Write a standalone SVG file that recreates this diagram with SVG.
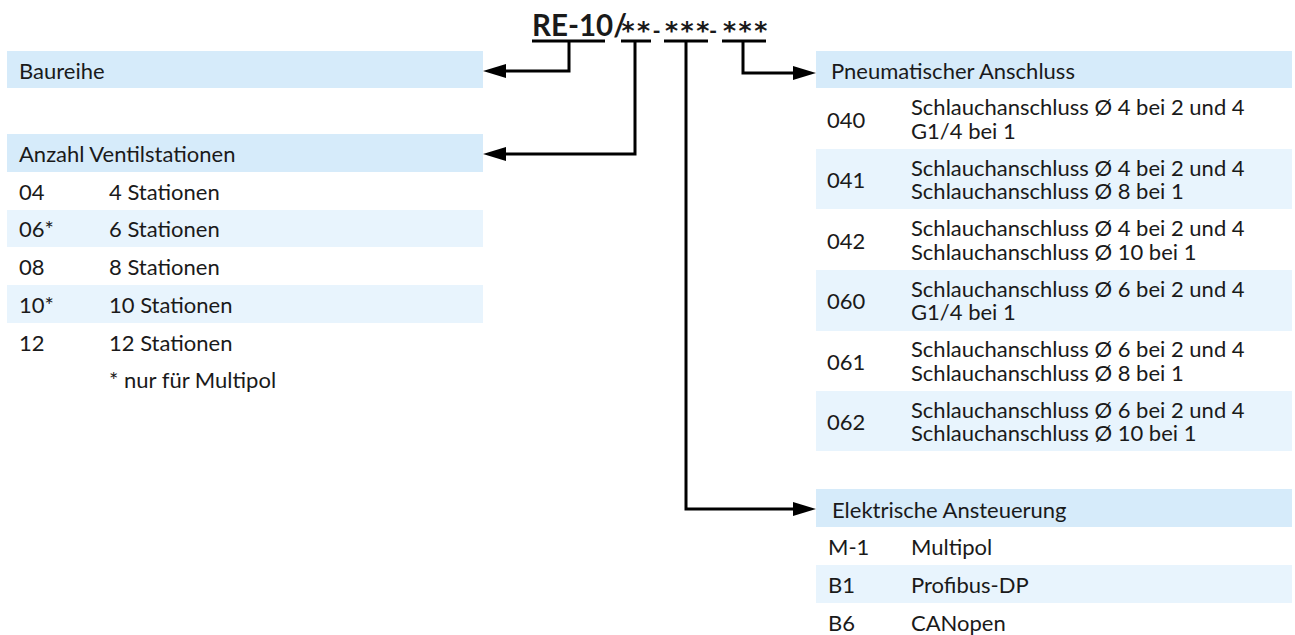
<svg xmlns="http://www.w3.org/2000/svg" width="1295" height="635" viewBox="0 0 1295 635">
<defs>
<style>
.t{font-family:Lato,"Open Sans","Liberation Sans",sans-serif;font-size:22px;fill:#1a1a1a}
.h{fill:#d6ebfa}
.a{fill:#e8f4fd}
.hd{font-family:Lato,"Liberation Sans",sans-serif;font-size:29.5px;font-weight:bold;fill:#1a1a1a}
.st{font-family:"DejaVu Sans",sans-serif;font-size:25px;font-weight:bold;letter-spacing:2.5px}
.ds{font-size:22px}
.c{fill:none;stroke:#000;stroke-width:3}
</style>
<marker id="ar" markerUnits="userSpaceOnUse" markerWidth="24" markerHeight="16" viewBox="0 0 24 16" refX="15" refY="8" orient="auto">
<path d="M0,1 L23,8 L0,15 z" fill="#000"/>
</marker>
</defs>
<rect width="1295" height="635" fill="#fff"/>

<g id="title">
<text class="hd" x="532" y="36">RE-10/<tspan class="st" x="621.5" y="39">**</tspan><tspan class="ds" x="652.5" y="38.5">-</tspan><tspan class="st" x="665" y="39">***</tspan><tspan class="ds" x="709" y="38.5">-</tspan><tspan class="st" x="723" y="39">***</tspan></text>
</g>

<g id="baureihe">
<rect class="h" x="7" y="51" width="476" height="37"/>
<text class="t" x="19" y="79">Baureihe</text>
</g>

<g id="ventilstationen">
<rect class="h" x="7" y="134" width="476" height="38"/>
<text class="t" x="19" y="162">Anzahl Ventilstationen</text>
<rect class="a" x="7" y="210" width="476" height="37"/>
<rect class="a" x="7" y="285" width="476" height="38"/>
<text class="t" x="19" y="200">04</text><text class="t" x="109" y="200">4 Stationen</text>
<text class="t" x="19" y="237">06*</text><text class="t" x="109" y="237">6 Stationen</text>
<text class="t" x="19" y="275">08</text><text class="t" x="109" y="275">8 Stationen</text>
<text class="t" x="19" y="313">10*</text><text class="t" x="109" y="313">10 Stationen</text>
<text class="t" x="19" y="351">12</text><text class="t" x="109" y="351">12 Stationen</text>
<text class="t" x="109" y="388">* nur für Multipol</text>
</g>

<g id="pneumatik">
<rect class="h" x="816" y="51" width="476" height="37"/>
<text class="t" x="831" y="79">Pneumatischer Anschluss</text>
<rect class="a" x="816" y="149" width="476" height="60"/>
<rect class="a" x="816" y="270" width="476" height="61"/>
<rect class="a" x="816" y="391" width="476" height="60"/>
<text class="t" x="827" y="128">040</text>
<text class="t" x="911" y="115">Schlauchanschluss Ø 4 bei 2 und 4<tspan x="911" y="139">G1/4 bei 1</tspan></text>
<text class="t" x="827" y="188">041</text>
<text class="t" x="911" y="176">Schlauchanschluss Ø 4 bei 2 und 4<tspan x="911" y="199">Schlauchanschluss Ø 8 bei 1</tspan></text>
<text class="t" x="827" y="249">042</text>
<text class="t" x="911" y="236">Schlauchanschluss Ø 4 bei 2 und 4<tspan x="911" y="260">Schlauchanschluss Ø 10 bei 1</tspan></text>
<text class="t" x="827" y="309">060</text>
<text class="t" x="911" y="297">Schlauchanschluss Ø 6 bei 2 und 4<tspan x="911" y="320">G1/4 bei 1</tspan></text>
<text class="t" x="827" y="370">061</text>
<text class="t" x="911" y="357">Schlauchanschluss Ø 6 bei 2 und 4<tspan x="911" y="381">Schlauchanschluss Ø 8 bei 1</tspan></text>
<text class="t" x="827" y="430">062</text>
<text class="t" x="911" y="418">Schlauchanschluss Ø 6 bei 2 und 4<tspan x="911" y="441">Schlauchanschluss Ø 10 bei 1</tspan></text>
</g>

<g id="elektrik">
<rect class="h" x="816" y="489" width="476" height="38"/>
<text class="t" x="832" y="518">Elektrische Ansteuerung</text>
<rect class="a" x="816" y="565" width="476" height="38"/>
<text class="t" x="828" y="555">M-1</text><text class="t" x="911" y="555">Multipol</text>
<text class="t" x="828" y="593">B1</text><text class="t" x="911" y="593">Profibus-DP</text>
<text class="t" x="828" y="631">B6</text><text class="t" x="911" y="631">CANopen</text>
</g>

<g id="connectors">
<path class="c" d="M532,41 H605"/>
<path class="c" d="M569,41 V71 H491" marker-end="url(#ar)"/>
<path class="c" d="M621,41 H651"/>
<path class="c" d="M635,41 V154 H491" marker-end="url(#ar)"/>
<path class="c" d="M664,41 H708"/>
<path class="c" d="M686,41 V509 H808" marker-end="url(#ar)"/>
<path class="c" d="M722,41 H766"/>
<path class="c" d="M743,41 V73 H808" marker-end="url(#ar)"/>
</g>
</svg>
